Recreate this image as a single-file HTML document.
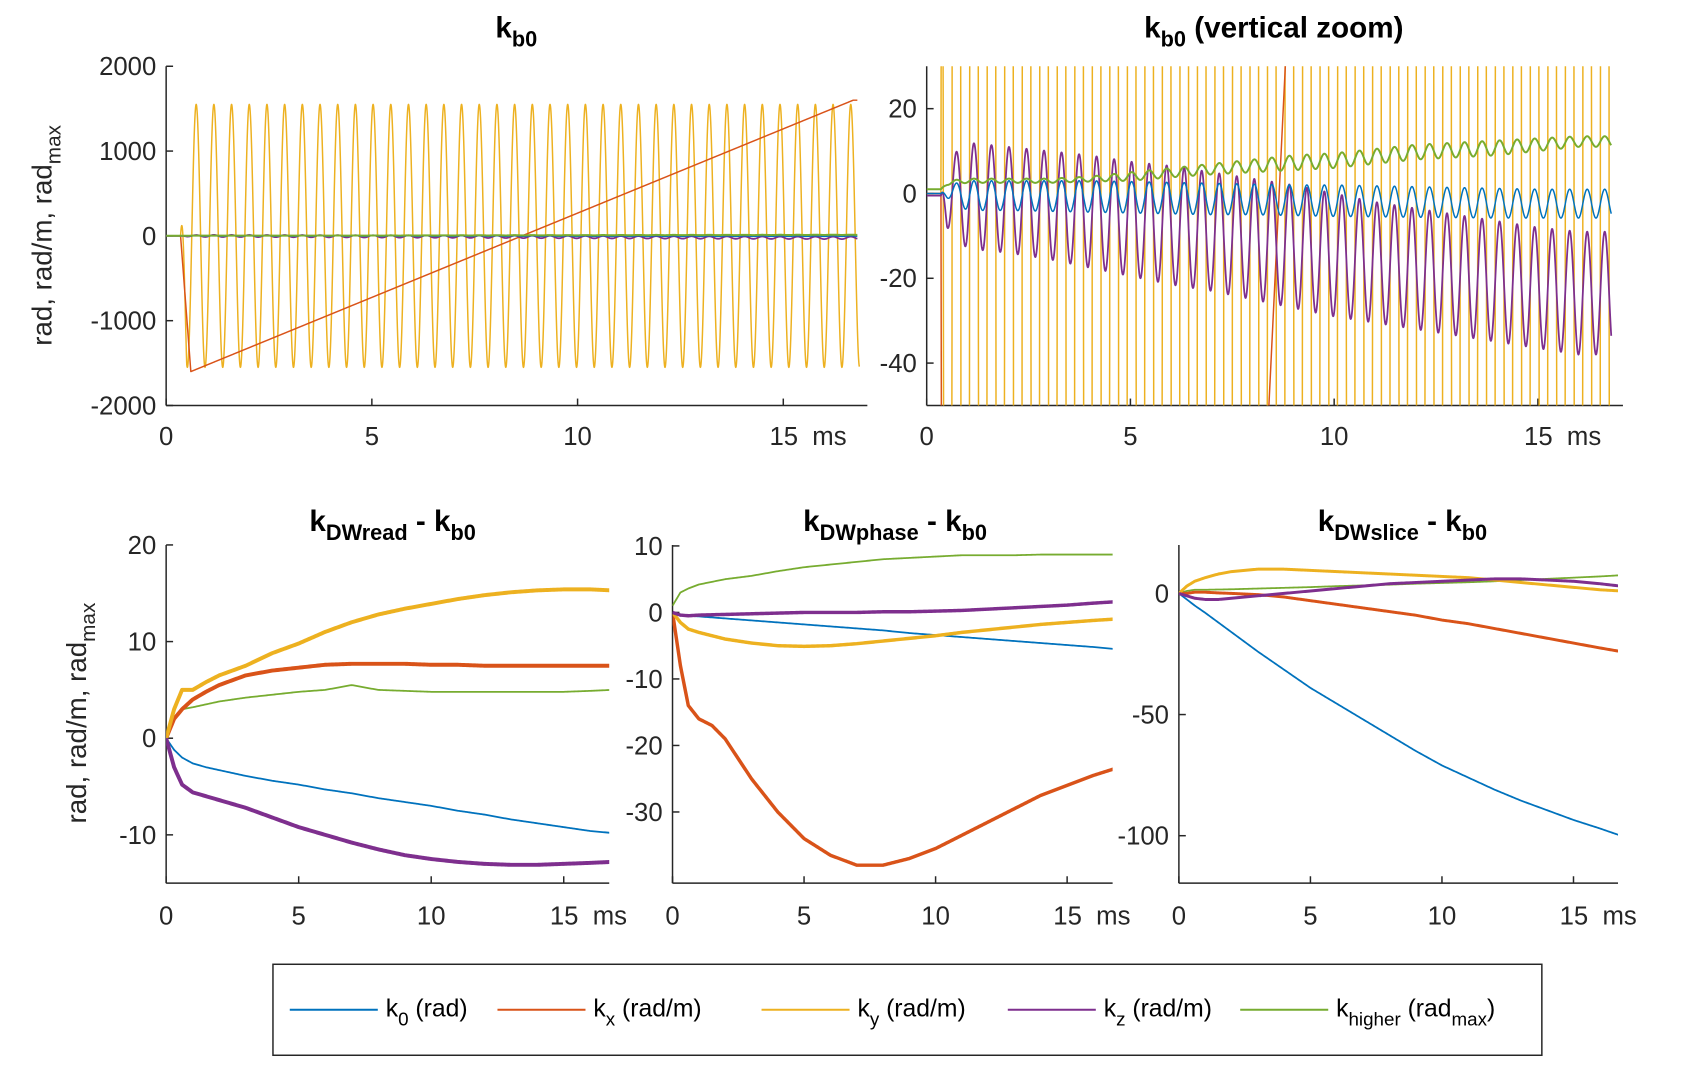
<!DOCTYPE html>
<html><head><meta charset="utf-8"><style>
html,body{margin:0;padding:0;background:#fff;width:1684px;height:1072px;overflow:hidden;}
svg{display:block;font-family:"Liberation Sans Narrow","Liberation Sans",sans-serif;}
.tk{font-size:26px;fill:#262626;}
.tt{font-size:30px;font-weight:bold;fill:#000;font-family:"Liberation Sans",sans-serif;}
.lg{font-size:25px;fill:#000;}
</style></head><body>
<svg id="fig" width="1684" height="1072" viewBox="0 0 1684 1072" xmlns="http://www.w3.org/2000/svg">
<defs>
<clipPath id="clipA"><rect x="168" y="67" width="709" height="343"/></clipPath>
<clipPath id="clipB"><rect x="937" y="67" width="704" height="343"/></clipPath>
<clipPath id="clipC"><rect x="168" y="540" width="448" height="353"/></clipPath>
<clipPath id="clipD"><rect x="680" y="540" width="445" height="353"/></clipPath>
<clipPath id="clipE"><rect x="1192" y="540" width="444" height="353"/></clipPath>
</defs>
<g transform="scale(0.989)">
<g id="layer"></g>
<text class="tt" x="522" y="38" text-anchor="middle">k<tspan font-size="22" dy="9">b0</tspan></text>
<text class="tt" x="1288" y="38" text-anchor="middle">k<tspan font-size="22" dy="9">b0</tspan><tspan dy="-9"> (vertical zoom)</tspan></text>
<text class="tt" x="397" y="537" text-anchor="middle">k<tspan font-size="22" dy="9">DWread</tspan><tspan dy="-9"> - k</tspan><tspan font-size="22" dy="9">b0</tspan></text>
<text class="tt" x="905" y="537" text-anchor="middle">k<tspan font-size="22" dy="9">DWphase</tspan><tspan dy="-9"> - k</tspan><tspan font-size="22" dy="9">b0</tspan></text>
<text class="tt" x="1418" y="537" text-anchor="middle">k<tspan font-size="22" dy="9">DWslice</tspan><tspan dy="-9"> - k</tspan><tspan font-size="22" dy="9">b0</tspan></text>
<text class="tk" transform="translate(52,238) rotate(-90)" text-anchor="middle" style="font-family:'Liberation Sans',sans-serif;font-size:28px">rad, rad/m, rad<tspan font-size="21" dy="9">max</tspan></text>
<text class="tk" transform="translate(87,721) rotate(-90)" text-anchor="middle" style="font-family:'Liberation Sans',sans-serif;font-size:28px">rad, rad/m, rad<tspan font-size="21" dy="9">max</tspan></text>
<g>
<rect x="276" y="975" width="1283" height="92" fill="#fff" stroke="#262626" stroke-width="1.5"/>
<line x1="293" y1="1021" x2="382" y2="1021" stroke="#0072BD" stroke-width="2"/>
<text class="lg" x="390" y="1028">k<tspan font-size="19" dy="9">0</tspan><tspan dy="-9"> (rad)</tspan></text>
<line x1="503" y1="1021" x2="592" y2="1021" stroke="#D95319" stroke-width="2"/>
<text class="lg" x="600" y="1028">k<tspan font-size="19" dy="9">x</tspan><tspan dy="-9">  (rad/m)</tspan></text>
<line x1="770" y1="1021" x2="859" y2="1021" stroke="#EDB120" stroke-width="2"/>
<text class="lg" x="867" y="1028">k<tspan font-size="19" dy="9">y</tspan><tspan dy="-9"> (rad/m)</tspan></text>
<line x1="1019" y1="1021" x2="1108" y2="1021" stroke="#7E2F8E" stroke-width="2"/>
<text class="lg" x="1116" y="1028">k<tspan font-size="19" dy="9">z</tspan><tspan dy="-9"> (rad/m)</tspan></text>
<line x1="1254" y1="1021" x2="1343" y2="1021" stroke="#77AC30" stroke-width="2"/>
<text class="lg" x="1351" y="1028">k<tspan font-size="19" dy="9">higher</tspan><tspan dy="-9"> (rad</tspan><tspan font-size="19" dy="9">max</tspan><tspan dy="-9">)</tspan></text>
</g>
</g>
</svg>
<script>
// ---- data: top panels (oscillation envelopes) ----
var oscPeriod = 0.43;
var oscPeakTime = 0.73;
var kyEnvT = [0, 0.35, 0.5, 17];
var kyUp = [0, 0, 1550, 1550];
var kyLo = [0, 0, -1550, -1550];
var kxTopT = [0, 0.35, 0.6, 16.7, 17];
var kxTopV = [0, 0, -1600, 1600, 1600];
var envT = [0, 0.35, 0.5, 1, 2, 3, 4, 5, 6, 7, 8, 9, 10, 11, 12, 13, 14, 15, 16, 17];
var kzUp = [-0.5, -0.5, 8, 12, 11, 10, 9, 7.5, 6.5, 5, 3.5, 2, 0, -2, -3.5, -5, -6.5, -8, -9, -9];
var kzLo = [-0.5, -0.5, -8, -13, -14, -15.5, -17.5, -19.5, -21.5, -23, -25, -27, -29, -30.5, -32, -33.5, -35, -36.5, -38, -38];
var k0Up = [0, 0, 2, 3, 3, 3, 3, 2.8, 2.6, 2.4, 2.2, 2, 2, 1.8, 1.6, 1.4, 1.2, 1, 1, 1];
var k0Lo = [0, 0, -1, -4, -4, -4.2, -4.4, -4.6, -4.8, -5, -5, -5.2, -5.4, -5.5, -5.6, -5.7, -5.8, -5.8, -5.8, -5.8];
var khUp = [1, 1, 3, 3.5, 3.5, 3.5, 4, 5, 6, 7, 8, 9, 9.5, 10.5, 11.5, 12, 12.5, 13, 13.5, 13.5];
var khLo = [1, 1, 2, 2.5, 2.5, 2.5, 2.8, 3, 3.8, 4.5, 5, 5.5, 6, 7, 8, 8.5, 9, 10, 11, 11];

// ---- data: bottom panels ----
var tB = [0, 0.3, 0.6, 1, 1.5, 2, 3, 4, 5, 6, 7, 8, 9, 10, 11, 12, 13, 14, 15, 16, 16.8];
var readK0 = [0, -1.2, -2, -2.6, -3, -3.3, -3.9, -4.4, -4.8, -5.3, -5.7, -6.2, -6.6, -7.0, -7.5, -7.9, -8.4, -8.8, -9.2, -9.6, -9.8];
var readKx = [0, 2, 3, 4, 4.8, 5.5, 6.5, 7, 7.3, 7.6, 7.7, 7.7, 7.7, 7.6, 7.6, 7.5, 7.5, 7.5, 7.5, 7.5, 7.5];
var readKy = [0, 3, 5, 5, 5.8, 6.5, 7.5, 8.8, 9.8, 11, 12, 12.8, 13.4, 13.9, 14.4, 14.8, 15.1, 15.3, 15.4, 15.4, 15.3];
var readKz = [0, -3, -4.8, -5.6, -6, -6.4, -7.2, -8.2, -9.2, -10, -10.8, -11.5, -12.1, -12.5, -12.8, -13, -13.1, -13.1, -13, -12.9, -12.8];
var readKh = [0, 2, 3, 3.2, 3.5, 3.8, 4.2, 4.5, 4.8, 5, 5.5, 5, 4.9, 4.8, 4.8, 4.8, 4.8, 4.8, 4.8, 4.9, 5];
var phaseK0 = [0, -0.3, -0.5, -0.6, -0.75, -0.9, -1.2, -1.5, -1.8, -2.1, -2.4, -2.7, -3.1, -3.4, -3.7, -4, -4.3, -4.6, -4.9, -5.2, -5.5];
var phaseKx = [0, -8, -14, -16, -17, -19, -25, -30, -34, -36.5, -38, -38, -37, -35.5, -33.5, -31.5, -29.5, -27.5, -26, -24.5, -23.5];
var phaseKy = [0, -1.5, -2.5, -3, -3.5, -4, -4.6, -5, -5.1, -5, -4.7, -4.3, -3.9, -3.5, -3, -2.6, -2.2, -1.8, -1.5, -1.2, -1];
var phaseKz = [0, -0.4, -0.5, -0.4, -0.35, -0.3, -0.2, -0.1, 0, 0, 0, 0.1, 0.1, 0.2, 0.3, 0.5, 0.7, 0.9, 1.1, 1.4, 1.6];
var phaseKh = [1, 3, 3.6, 4.2, 4.6, 5, 5.5, 6.2, 6.8, 7.2, 7.6, 8, 8.2, 8.4, 8.6, 8.6, 8.6, 8.7, 8.7, 8.7, 8.7];
var sliceK0 = [0, -2.5, -5, -8, -12, -16, -24, -31.5, -39, -45.5, -52, -58.5, -65, -71, -76, -81, -85.5, -89.5, -93.5, -97, -100];
var sliceKx = [0, 0, 0.5, 0.5, 0.2, 0, -0.5, -1.5, -3, -4.5, -6, -7.5, -9, -11, -12.5, -14.5, -16.5, -18.5, -20.5, -22.5, -24];
var sliceKy = [0, 3, 5, 6.5, 8, 9, 10, 10, 9.5, 9, 8.5, 8, 7.5, 7, 6.5, 5.5, 4.5, 3.5, 2.5, 1.5, 1];
var sliceKz = [0, -1, -2, -2.5, -2.5, -2, -1, 0, 1, 2, 3, 4, 4.5, 5, 5.5, 6, 6, 5.5, 5, 4, 3];
var sliceKh = [0, 1, 1.5, 1.5, 1.6, 1.7, 2, 2.3, 2.6, 3, 3.3, 3.6, 4, 4.3, 4.6, 5, 5.5, 6, 6.5, 7, 7.5];

// ---- tick labels ----
var xTicks = [0, 5, 10, 15];
var yTicksA = [2000, 1000, 0, -1000, -2000];
var yTicksB = [20, 0, -20, -40];
var yTicksC = [20, 10, 0, -10];
var yTicksD = [10, 0, -10, -20, -30];
var yTicksE = [0, -50, -100];

var C_BLUE = '#0072BD', C_OR = '#D95319', C_YE = '#EDB120', C_PU = '#7E2F8E', C_GR = '#77AC30';
var NS = 'http://www.w3.org/2000/svg';
var layer = document.getElementById('layer');

function mk(tag, attrs, parent) {
  var e = document.createElementNS(NS, tag);
  for (var k in attrs) e.setAttribute(k, attrs[k]);
  (parent || layer).appendChild(e);
  return e;
}
function lin(d0, d1, r0, r1) { return function (v) { return r0 + (v - d0) * (r1 - r0) / (d1 - d0); }; }
function interp(ts, vs, t) {
  if (t <= ts[0]) return vs[0];
  for (var i = 1; i < ts.length; i++) {
    if (t <= ts[i]) { var f = (t - ts[i - 1]) / (ts[i] - ts[i - 1]); return vs[i - 1] + f * (vs[i] - vs[i - 1]); }
  }
  return vs[vs.length - 1];
}
function osc(ts, up, lo, t) {
  var u = interp(ts, up, t), l = interp(ts, lo, t);
  var c = Math.cos(2 * Math.PI * (t - oscPeakTime) / oscPeriod);
  return l + (u - l) * (0.5 + 0.5 * c);
}

var panels = {
  A: { x: lin(0, 5, 168, 376), y: lin(2000, -2000, 67, 410), x0: 168, x1: 877, yTop: 67, yBot: 410, yt: yTicksA, clip: 'clipA', lx: 441 },
  B: { x: lin(0, 5, 937, 1143), y: lin(30, -50, 67, 410), x0: 937, x1: 1641, yTop: 67, yBot: 410, yt: yTicksB, clip: 'clipB', lx: 441 },
  C: { x: lin(0, 5, 168, 302), y: lin(20, -15, 551, 893), x0: 168, x1: 616, yTop: 551, yBot: 893, yt: yTicksC, clip: 'clipC', lx: 926 },
  D: { x: lin(0, 5, 680, 813), y: lin(10, -30, 552, 821), x0: 680, x1: 1125, yTop: 551, yBot: 893, yt: yTicksD, clip: 'clipD', lx: 926 },
  E: { x: lin(0, 5, 1192, 1325), y: lin(0, -100, 600, 845), x0: 1192, x1: 1636, yTop: 551, yBot: 893, yt: yTicksE, clip: 'clipE', lx: 926 }
};

function drawAxes(key) {
  var p = panels[key];
  var g = mk('g', {});
  
  
  mk('line', { x1: p.x0, y1: p.yBot, x2: p.x1, y2: p.yBot, stroke: '#262626', 'stroke-width': 1.5 }, g);
  mk('line', { x1: p.x0, y1: p.yTop, x2: p.x0, y2: p.yBot, stroke: '#262626', 'stroke-width': 1.5 }, g);
  xTicks.forEach(function (v, i) {
    var X = p.x(v);
    mk('line', { x1: X, y1: p.yBot, x2: X, y2: p.yBot - 7, stroke: '#262626', 'stroke-width': 1.5 }, g);
    var t = mk('text', { x: X, y: p.lx + 9, 'text-anchor': 'middle', class: 'tk' }, g);
    t.textContent = (i === xTicks.length - 1) ? v + '\u00a0 ms' : String(v);
    if (i === xTicks.length - 1) { t.setAttribute('text-anchor', 'start'); t.setAttribute('x', X - 14); }
    
    
  });
  p.yt.forEach(function (v) {
    var Y = p.y(v);
    mk('line', { x1: p.x0, y1: Y, x2: p.x0 + 7, y2: Y, stroke: '#262626', 'stroke-width': 1.5 }, g);
    var t = mk('text', { x: p.x0 - 10, y: Y + 9, 'text-anchor': 'end', class: 'tk' }, g);
    t.textContent = String(v);
    
    
  });
}

function pathFrom(p, fn, t0, t1, dt) {
  var d = '';
  for (var t = t0; t <= t1 + 1e-9; t += dt) {
    var Y = p.y(fn(t));
    Y = Math.max(p.yTop - 4, Math.min(p.yBot + 4, Y));
    d += (d ? 'L' : 'M') + p.x(t).toFixed(2) + ',' + Y.toFixed(2);
  }
  return d;
}
function drawLine(key, name, color, width, fn, t1, dt) {
  var p = panels[key];
  var e = mk('path', { d: pathFrom(p, fn, 0, t1, dt), fill: 'none', stroke: color, 'stroke-width': width, 'stroke-linejoin': 'round', 'clip-path': 'url(#' + p.clip + ')' });
  
  
}

['A', 'B', 'C', 'D', 'E'].forEach(drawAxes);

var TEND = 16.8;
['A', 'B'].forEach(function (k) {
  var lk = k.toLowerCase();
  drawLine(k, 'series-ky-' + lk, C_YE, 1.5, function (t) { return osc(kyEnvT, kyUp, kyLo, t); }, 16.85, 0.003);
  drawLine(k, 'series-kx-' + lk, C_OR, 1.5, function (t) { return interp(kxTopT, kxTopV, t); }, TEND, 0.01);
  drawLine(k, 'series-kz-' + lk, C_PU, 1.8, function (t) { return osc(envT, kzUp, kzLo, t); }, TEND, 0.005);
  drawLine(k, 'series-k0-' + lk, C_BLUE, 1.5, function (t) { return osc(envT, k0Up, k0Lo, t); }, TEND, 0.005);
  drawLine(k, 'series-khigher-' + lk, C_GR, 2, function (t) { return osc(envT, khUp, khLo, t); }, TEND, 0.005);
});

function drawBottom(k, k0, kx, ky, kz, kh, w) {
  var lk = k.toLowerCase();
  drawLine(k, 'series-khigher-' + lk, C_GR, 1.8, function (t) { return interp(tB, kh, t); }, TEND, 0.05);
  drawLine(k, 'series-k0-' + lk, C_BLUE, 1.8, function (t) { return interp(tB, k0, t); }, TEND, 0.05);
  drawLine(k, 'series-kx-' + lk, C_OR, w, function (t) { return interp(tB, kx, t); }, TEND, 0.05);
  drawLine(k, 'series-ky-' + lk, C_YE, w, function (t) { return interp(tB, ky, t); }, TEND, 0.05);
  drawLine(k, 'series-kz-' + lk, C_PU, w, function (t) { return interp(tB, kz, t); }, TEND, 0.05);
}
drawBottom('C', readK0, readKx, readKy, readKz, readKh, 4);
drawBottom('D', phaseK0, phaseKx, phaseKy, phaseKz, phaseKh, 3.5);
drawBottom('E', sliceK0, sliceKx, sliceKy, sliceKz, sliceKh, 3);
</script>
</body></html>
